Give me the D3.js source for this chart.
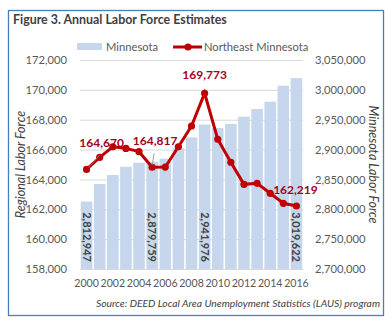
<!DOCTYPE html>
<html>
<head>
<meta charset="utf-8">
<script src="https://cdn.jsdelivr.net/npm/d3@7"></script>
<style>
  body { margin: 0; background: #fff; }
  svg text { font-family: Lato, "Open Sans", sans-serif; }
</style>
</head>
<body>
<div id="chart"></div>
<script>
// Data
const years = d3.range(2000, 2017)
const minnesota = [2812947, 2842300, 2857400, 2871300, 2878000, 2879759, 2884700, 2902100,
                   2920500, 2941976, 2936100, 2942800, 2955000, 2967900, 2980200, 3007000, 3019622]
const northeast = [164670, 165480, 166190, 166080, 165860, 164817, 164830, 166190,
                   167580, 169773, 166690, 165150, 163670, 163740, 163070, 162400, 162219]
const leftTicks = d3.range(158000, 172001, 2000)
const rightTicks = d3.range(2700000, 3050001, 50000)
const yearTicks = d3.range(2000, 2017, 2)
const barLabelYears = [2000, 2005, 2009, 2016]
const lineLabelYears = [2000, 2005, 2009, 2016]

const margin = { top: 60, right: 88, bottom: 54, left: 80 }
const sizes = { width: 391, height: 323 }
const inner = {
    width: 303 - margin.left,
    height: 269 - margin.top
}

const svg = d3.select("#chart")
    .append("svg")
        .attr("width", sizes.width)
        .attr("height", sizes.height)

// outer frame
svg.append("rect")
    .attr("x", 8.5).attr("y", 10.5)
    .attr("width", 375).attr("height", 305)
    .attr("fill", "#fff")
    .attr("stroke", "#4a7ebb")
    .attr("stroke-width", 1.3)

svg.append("text")
    .attr("x", 13).attr("y", 24)
    .attr("font-size", 12.4).attr("font-weight", "bold")
    .attr("fill", "#404040")
    .text("Figure 3. Annual Labor Force Estimates")

const g = svg.append("g")
    .attr("transform", "translate(" + margin.left + "," + margin.top + ")")

// Scales
const x = d3.scaleBand()
    .domain(years)
    .range([0, inner.width])
    .paddingInner(0.12)
    .paddingOuter(0.06)

const yLeft = d3.scaleLinear().domain([158000, 172000]).range([inner.height, 0])
const yRight = d3.scaleLinear().domain([2700000, 3050000]).range([inner.height, 0])

// gridlines
g.append("g")
    .selectAll("line")
    .data(leftTicks)
    .enter()
    .append("line")
        .attr("x1", 0).attr("x2", inner.width)
        .attr("y1", d => yLeft(d) + 0.5).attr("y2", d => yLeft(d) + 0.5)
        .attr("stroke", "#d9d9d9")

// bars
g.append("g")
    .selectAll("rect")
    .data(years)
    .enter()
    .append("rect")
        .attr("x", d => x(d))
        .attr("y", (d, i) => yRight(minnesota[i]))
        .attr("width", x.bandwidth())
        .attr("height", (d, i) => inner.height - yRight(minnesota[i]))
        .attr("fill", "#c5d6ed")

// bar labels, rotated
g.append("g")
    .selectAll("text")
    .data(barLabelYears)
    .enter()
    .append("text")
        .attr("transform", d => "translate(" + (x(d) + x.bandwidth() / 2 - 4) + "," + (inner.height - 7) + ") rotate(90)")
        .attr("text-anchor", "end")
        .attr("font-size", 11)
        .attr("font-weight", "bold")
        .attr("fill", "#404040")
        .text(d => d3.format(",")(minnesota[years.indexOf(d)]))

// axes
const axisLeft = g.append("g")
    .call(d3.axisLeft(yLeft).tickValues(leftTicks).tickSize(0).tickPadding(13).tickFormat(d3.format(",")))
axisLeft.select(".domain").remove()

const axisRight = g.append("g")
    .attr("transform", "translate(" + inner.width + ",0)")
    .call(d3.axisRight(yRight).tickValues(rightTicks).tickSize(0).tickPadding(12).tickFormat(d3.format(",")))
axisRight.select(".domain").remove()

const axisBottom = g.append("g")
    .attr("transform", "translate(0," + inner.height + ")")
    .call(d3.axisBottom(x).tickValues(yearTicks).tickSize(0).tickPadding(10))
axisBottom.select(".domain")
    .attr("stroke", "#d9d9d9")

g.selectAll(".tick text")
    .attr("font-family", "Lato, 'Open Sans', sans-serif")
    .attr("font-size", 11.2)
    .attr("fill", "#595959")
axisBottom.selectAll(".tick text")
    .attr("font-size", 10.6)

// line
const line = d3.line()
    .x(d => x(d) + x.bandwidth() / 2)
    .y((d, i) => yLeft(northeast[i]))

g.append("path")
    .datum(years)
    .attr("d", line)
    .attr("fill", "none")
    .attr("stroke", "#c00000")
    .attr("stroke-width", 3)

g.append("g")
    .selectAll("circle")
    .data(years)
    .enter()
    .append("circle")
        .attr("cx", d => x(d) + x.bandwidth() / 2)
        .attr("cy", (d, i) => yLeft(northeast[i]))
        .attr("r", 3.6)
        .attr("fill", "#c00000")

// line labels (offsets follow the manually placed labels of the original)
const labelOffset = { 2000: [15, -27], 2005: [3, -26], 2009: [0, -18], 2016: [-1, -16] }
g.append("g")
    .selectAll("line")
    .data([2000, 2005])
    .enter()
    .append("line")
        .attr("x1", d => x(d) + x.bandwidth() / 2 + (d === 2000 ? 13 : 2))
        .attr("y1", (d, i) => yLeft(northeast[years.indexOf(d)]) - 14)
        .attr("x2", d => x(d) + x.bandwidth() / 2 + (d === 2000 ? 2 : 0))
        .attr("y2", (d, i) => yLeft(northeast[years.indexOf(d)]) - 2)
        .attr("stroke", "#8c8c8c")
        .attr("stroke-width", 0.8)

g.append("g")
    .selectAll("text")
    .data(lineLabelYears)
    .enter()
    .append("text")
        .attr("x", d => x(d) + x.bandwidth() / 2 + labelOffset[d][0])
        .attr("y", d => yLeft(northeast[years.indexOf(d)]) + labelOffset[d][1])
        .attr("dy", "0.35em")
        .attr("text-anchor", "middle")
        .attr("font-size", 12)
        .attr("font-weight", "bold")
        .attr("fill", "#a50021")
        .text(d => d3.format(",")(northeast[years.indexOf(d)]))

// axis titles
svg.append("text")
    .attr("transform", "translate(25," + (margin.top + inner.height / 2) + ") rotate(-90)")
    .attr("text-anchor", "middle")
    .attr("font-size", 12.5)
    .attr("font-style", "italic")
    .attr("fill", "#404040")
    .text("Regional Labor Force")

svg.append("text")
    .attr("transform", "translate(369," + (margin.top + inner.height / 2) + ") rotate(90)")
    .attr("text-anchor", "middle")
    .attr("font-size", 12.5)
    .attr("font-style", "italic")
    .attr("fill", "#404040")
    .text("Minnesota Labor Force")

// legend
const legend = svg.append("g")
legend.append("rect")
    .attr("x", 77).attr("y", 43).attr("width", 25).attr("height", 7)
    .attr("fill", "#c5d6ed")
legend.append("text")
    .attr("x", 106).attr("y", 47).attr("dy", "0.35em")
    .attr("font-size", 11.2).attr("fill", "#595959")
    .text("Minnesota")
legend.append("line")
    .attr("x1", 173).attr("x2", 202).attr("y1", 47).attr("y2", 47)
    .attr("stroke", "#c00000").attr("stroke-width", 3)
legend.append("circle")
    .attr("cx", 188).attr("cy", 47).attr("r", 3.6)
    .attr("fill", "#c00000")
legend.append("text")
    .attr("x", 204).attr("y", 47).attr("dy", "0.35em")
    .attr("font-size", 11.2).attr("fill", "#595959")
    .text("Northeast Minnesota")

// source
svg.append("text")
    .attr("x", 380).attr("y", 307)
    .attr("text-anchor", "end")
    .attr("font-size", 10.3)
    .attr("font-style", "italic")
    .attr("fill", "#404040")
    .text("Source: DEED Local Area Unemployment Statistics (LAUS) program")
</script>
</body>
</html>
